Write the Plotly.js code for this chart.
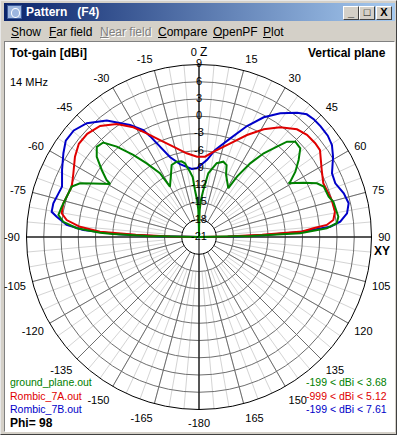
<!DOCTYPE html>
<html><head><meta charset="utf-8">
<script src="https://cdn.plot.ly/plotly-3.0.1.min.js"></script>
<style>
body{margin:0;width:397px;height:435px;overflow:hidden;background:#d4d0c8;font-family:"Liberation Sans",Arial,sans-serif;}
#win{position:absolute;left:0;top:0;width:397px;height:435px;box-sizing:border-box;background:#d4d0c8;border:1px solid;border-color:#e8e8e8 #404040 #404040 #e8e8e8;}
#tbar{position:absolute;left:3px;top:2px;width:391px;height:18px;background:linear-gradient(to right,#0a246a,#a6caf0);}
#ttxt{position:absolute;left:22px;top:0;line-height:18px;font-weight:bold;font-size:12px;color:#fff;white-space:pre;}
#icon{position:absolute;left:3px;top:2px;width:15px;height:14px;background:#9cb6e0;border:1px solid #3a5a9a;box-sizing:border-box;}
#icon:after{content:"";position:absolute;left:3px;top:2px;width:7px;height:8px;border:1px solid #fff;border-radius:50%;}
.btn{position:absolute;top:3px;width:16px;height:14px;box-sizing:border-box;background:#d4d0c8;border:1px solid;border-color:#fff #404040 #404040 #fff;font-size:11px;font-weight:bold;line-height:11px;text-align:center;color:#000;}
#menu{position:absolute;left:3px;top:21px;width:391px;height:19px;font-size:12px;}
#menu span{position:absolute;top:3px;}
#menu .dis{color:#808080;text-shadow:1px 1px 0 #fff;}
#white{position:absolute;left:3px;top:40px;width:391px;height:391px;box-sizing:border-box;background:#fff;border:1px solid;border-color:#808080 #fff #fff #808080;}
#plot{position:absolute;left:0;top:0;width:397px;height:435px;}
</style></head>
<body>
<div id="win">
  <div id="tbar"><div id="icon"></div><div id="ttxt">Pattern   (F4)</div>
    <div class="btn" style="left:339px;">_</div>
    <div class="btn" style="left:355px;">&#9633;</div>
    <div class="btn" style="left:372px;">X</div>
  </div>
  <div id="menu">
    <span style="left:7px;"><u>S</u>how</span>
    <span style="left:45px;"><u>F</u>ar field</span>
    <span class="dis" style="left:96px;"><u>N</u>ear field</span>
    <span style="left:154px;"><u>C</u>ompare</span>
    <span style="left:209px;"><u>O</u>penPF</span>
    <span style="left:259px;"><u>P</u>lot</span>
  </div>
  <div id="white"></div>
</div>
<div id="plot"></div>
<script>
// ---- data (theta in degrees from zenith, gain in dBi) ----
const seriesNames = ["ground_plane.out", "Rombic_7A.out", "Rombic_7B.out"];
const seriesColors = ["#008000", "#e00000", "#0000c8"];
const gainRanges = ["-199 < dBi < 3.68", "-999 < dBi < 5.12", "-199 < dBi < 7.61"];

const groundTheta = [-90,-89,-88,-87.5,-85.9,-83.6,-81.1,-77.6,-73.1,-68.4,-65.7,-63.1,-59.2,-58.3,-55.5,-51.9,-48.6,-45.4,-42.3,-38.7,-35.4,-31.5,-30,-24.7,-20.8,-16.5,-13,-10.8,-8,-6,-4.9,-3,-1.5,-0.7,0,0.7,1.5,3,5,8.3,13.5,17.9,21,23.5,31,32.2,34.8,37.7,40.8,42.7,45.3,48.8,52.3,55.9,58.8,59.1,62.6,65.5,68,72.7,75.3,81.7,84.3,86.1,87.9,89,90];
const groundGain  = [-21,-12,-6,-3.8,0.3,2.75,3.75,3.45,3.05,2.8,1.7,-0.4,-3,-2.1,-0.5,1.6,2.7,2.4,0.25,-2.7,-5.3,-8,-10.9,-9.3,-7.6,-7.35,-7.5,-7.95,-9.5,-10.5,-12.8,-14.5,-16.3,-19,-21,-19,-16.3,-14.5,-13,-9.8,-7.8,-7.24,-7.6,-9.2,-11.1,-8.6,-5.4,-2.6,-0.25,1.56,2.57,2.41,0.9,-0.76,-2.44,-2.83,-0.5,1.54,2.39,2.62,3.16,3.49,3.07,1.26,-3.4,-12,-21];

const rombATheta = [-90,-89,-88,-86.9,-85.1,-82.7,-80.2,-76.1,-68.4,-63.1,-57.1,-52.2,-47.3,-41.7,-36.1,-30.9,-26.8,-21.9,-15.9,-8.4,-1.4,4.3,9.8,18.5,25.2,31,36.5,42.3,46.6,51.1,54.3,61.4,66.6,74.4,79.5,82.8,84.6,85.6,87,88,89,90];
const rombAGain  = [-21,-16,-10,-3.76,-0.23,2.2,3.23,3.31,2.8,3.5,4.69,5.45,5.45,4.86,3.31,1.24,-0.8,-2.83,-4.67,-6.29,-7.03,-7,-5.94,-3.82,-1.4,0.85,2.74,4.32,4.84,4.97,4.91,3.31,2.55,2.96,3.05,2.55,1.31,-1.06,-3,-10,-16,-21];

const rombBTheta = [-90,-89,-88,-86.5,-84.8,-81.9,-80.3,-77,-69.8,-63.9,-58.3,-54.1,-49.6,-44.6,-38.4,-31.6,-27.5,-25.9,-20,-14.6,-6.1,-1.7,6,10.5,17.6,23.4,28.4,33.3,38.3,41.3,44.4,47.7,51.8,55.3,59.1,64.4,68.5,73.2,77.3,80.9,83.8,85.5,87.2,88.5,89.5,90];
const rombBGain  = [-21,-14,-7,-0.84,2.1,4,5,5,4.38,5.52,6.72,7.6,7.6,6.79,4.83,1.87,-0.03,-1.5,-6.2,-7.9,-9.1,-9.05,-7.5,-5.6,-3,0.03,2.67,4.74,6.53,7.4,7.6,7.6,7.5,7.12,6.17,4.65,4.48,5.3,5.68,5.07,3.71,1.9,-3.4,-10,-16,-21];

const radialTicks = [9,6,3,0,-3,-6,-9,-12,-15,-18,-21];
const angleTickVals = [0,15,30,45,60,75,90,105,120,135,150,165,180,195,210,225,240,255,270,285,300,315,330,345];
const angleTickText = ["0","15","30","45","60","75","90","105","120","135","150","165","-180","-165","-150","-135","-120","-105","-90","-75","-60","-45","-30","-15"];
const freqLabel = "14 MHz";
const phiLabel = "Phi= 98";

// ---- geometry ----
const W = 397, H = 435, CX = 199, CY = 237, R = 172.5;
const dom = {x: [(CX - R) / W, (CX + R) / W], y: [1 - (CY + R) / H, 1 - (CY - R) / H]};
const fx = p => p / W, fy = p => 1 - p / H;
const FONT = '"Liberation Sans", Arial, sans-serif';

const thetas = [groundTheta, rombATheta, rombBTheta];
const gains = [groundGain, rombAGain, rombBGain];

const traces = [
  {type: 'scatterpolar', subplot: 'polar', r: [], theta: [], mode: 'lines', hoverinfo: 'skip', showlegend: false},
  {type: 'scatterpolar', subplot: 'polar2', r: [], theta: [], mode: 'lines', hoverinfo: 'skip', showlegend: false}
];
[2, 1, 0].forEach(i => traces.push({
  type: 'scatterpolar', subplot: 'polar3', r: gains[i], theta: thetas[i], mode: 'lines',
  line: {color: seriesColors[i], width: 2}, name: seriesNames[i], showlegend: false, hoverinfo: 'skip'
}));
traces.push({
  type: 'scatterpolar', subplot: 'polar3', r: radialTicks, theta: radialTicks.map(() => 0),
  mode: 'text', text: radialTicks.map(String), textposition: 'middle center',
  textfont: {family: FONT, size: 11, color: '#000'}, showlegend: false, hoverinfo: 'skip'
});

// the zenith tick carries the Z axis marker
const tickTextShown = angleTickText.map(t => t === "0" ? '0 <span style="font-size:12px">Z</span>' : t);

const hiddenRadial = {showgrid: false, showticklabels: false, showline: false, ticks: ''};
const layout = {
  width: W, height: H, margin: {l: 0, r: 0, t: 0, b: 0},
  paper_bgcolor: 'rgba(0,0,0,0)', plot_bgcolor: 'rgba(0,0,0,0)', showlegend: false,
  font: {family: FONT, size: 11, color: '#000'},
  polar: {
    domain: dom, hole: 0.2, bgcolor: 'rgba(0,0,0,0)',
    radialaxis: Object.assign({range: [-15, 9]}, hiddenRadial),
    angularaxis: {rotation: 90, direction: 'clockwise', tickmode: 'linear', tick0: 0, dtick: 5,
      showgrid: true, gridcolor: '#d4d4d4', gridwidth: 1, showticklabels: false, showline: false, ticks: ''}
  },
  polar2: {
    domain: dom, hole: 0.1, bgcolor: 'rgba(0,0,0,0)',
    radialaxis: {range: [-18, 9], tickmode: 'linear', tick0: -18, dtick: 3, showgrid: true,
      gridcolor: '#6e6e6e', gridwidth: 1, showticklabels: false, showline: false, ticks: ''},
    angularaxis: {rotation: 90, direction: 'clockwise', tickmode: 'array', tickvals: angleTickVals,
      ticktext: tickTextShown, showgrid: true, gridcolor: '#6e6e6e', gridwidth: 1,
      showline: true, linecolor: '#000', linewidth: 1, ticks: 'outside', ticklen: 4,
      tickcolor: 'rgba(0,0,0,0)', tickfont: {family: FONT, size: 11, color: '#000'}}
  },
  polar3: {
    domain: dom, bgcolor: 'rgba(0,0,0,0)',
    radialaxis: Object.assign({range: [-21, 9]}, hiddenRadial),
    angularaxis: {rotation: 90, direction: 'clockwise', tickmode: 'array', tickvals: [0, 90, 180, 270],
      showgrid: true, gridcolor: '#000', gridwidth: 1, showticklabels: false, showline: false, ticks: ''}
  },
  annotations: [
    {text: '<b>Tot-gain [dBi]</b>', x: fx(8), y: fy(53), xanchor: 'left', yanchor: 'middle', font: {size: 12}},
    {text: '<b>Vertical plane</b>', x: fx(388), y: fy(53), xanchor: 'right', yanchor: 'middle', font: {size: 12}},
    {text: freqLabel, x: fx(8), y: fy(82), xanchor: 'left', yanchor: 'middle', font: {size: 11}},
    {text: '<b>XY</b>', x: fx(382), y: fy(251), xanchor: 'center', yanchor: 'middle', font: {size: 12}},
    {text: '<b>' + phiLabel + '</b>', x: fx(8), y: fy(423), xanchor: 'left', yanchor: 'middle', font: {size: 12}}
  ].concat(seriesNames.map((n, i) => ({
    text: n, x: fx(8), y: fy(382 + 13.7 * i), xanchor: 'left', yanchor: 'middle', font: {size: 10.5, color: seriesColors[i]}
  }))).concat(gainRanges.map((t, i) => ({
    text: t.replace(/</g, '&lt;'), x: fx(389), y: fy(382 + 13.7 * i), xanchor: 'right', yanchor: 'middle', font: {size: 10.5, color: seriesColors[i]}
  }))).map(a => Object.assign({xref: 'paper', yref: 'paper', showarrow: false}, a))
};
layout.annotations.forEach(a => { a.font = Object.assign({family: FONT, color: '#000'}, a.font); });

Plotly.newPlot('plot', traces, layout, {staticPlot: true, displayModeBar: false});
</script>
</body></html>
